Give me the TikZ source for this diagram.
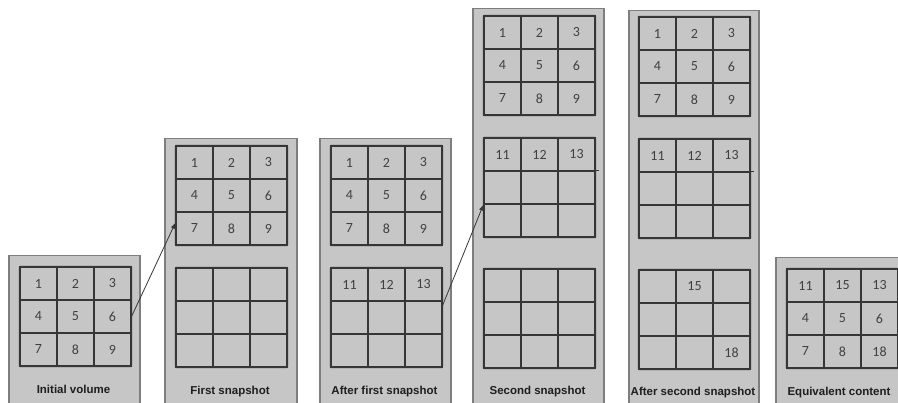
\documentclass[tikz,border=0pt]{standalone}
\usepackage{fontspec}
\usetikzlibrary{arrows.meta,calc}
\newfontfamily\numfont{Carlito}
\newfontfamily\labfont{Liberation Sans}
\definecolor{panelfill}{HTML}{C6C6C6}
\definecolor{paneledge}{HTML}{7E7E7E}
\definecolor{gridc}{HTML}{363636}
\definecolor{numc}{HTML}{404040}
\definecolor{labc}{HTML}{1E1E1E}
\tikzset{
  panel/.style={draw=paneledge, fill=panelfill, line width=1.5pt, anchor=north west, inner sep=0pt},
  cell/.style={draw=gridc, line width=1.1pt, minimum width=37pt, minimum height=33pt, inner sep=0pt,
    font=\numfont\fontsize{14}{16}\selectfont, text=numc},
  gridframe/.style={draw=gridc, line width=1.3pt, rounded corners=1pt},
  gridline/.style={draw=gridc, line width=1.1pt},
  lab/.style={font=\labfont\bfseries\fontsize{11.5}{13}\selectfont, text=labc, inner sep=0pt},
  conn/.style={draw=gridc, line width=0.8pt, -{Latex[length=6pt,width=4.5pt]}}
}
\newcommand{\mkgrid}[4]{%
  \foreach \lab [count=\i from 0] in {#4} {
    \pgfmathtruncatemacro\rr{int(\i/3)}
    \pgfmathtruncatemacro\cc{mod(\i,3)}
    \pgfmathtruncatemacro\kk{\i+1}
    \node[cell] (#1c\kk) at ({#2+37*\cc+18.5},{#3+33*\rr+16.5}) {\lab};
  }
  \draw[gridframe] (#1c1.north west) rectangle (#1c9.south east);
}
\begin{document}
\begin{tikzpicture}[x=1pt,y=-1pt]
\useasboundingbox (0,0) rectangle (898,403);
\clip (0,0) rectangle (898,403);
\fill[white] (0,0) rectangle (898,403);
% panels
\node[panel, minimum width=131pt, minimum height=160pt] (pan1) at (8,255) {};
\node[panel, minimum width=132pt, minimum height=280pt] (pan2) at (164,138) {};
\node[panel, minimum width=131pt, minimum height=280pt] (pan3) at (319,138) {};
\node[panel, minimum width=131pt, minimum height=410pt] (pan4) at (472,8) {};
\node[panel, minimum width=130pt, minimum height=410pt] (pan5) at (628,10) {};
\node[panel, minimum width=140pt, minimum height=160pt] (pan6) at (775,257) {};
% grids
\mkgrid{pA}{20}{267}{1,2,3,4,5,6,7,8,9}
\mkgrid{pBa}{176}{146}{1,2,3,4,5,6,7,8,9}
\mkgrid{pBb}{176}{268}{{},{},{},{},{},{},{},{},{}}
\mkgrid{pCa}{331}{146}{1,2,3,4,5,6,7,8,9}
\mkgrid{pCb}{331}{268}{11,12,13,{},{},{},{},{},{}}
\mkgrid{pDa}{484}{16}{1,2,3,4,5,6,7,8,9}
\mkgrid{pDb}{484}{138}{11,12,13,{},{},{},{},{},{}}
\mkgrid{pDc}{484}{269}{{},{},{},{},{},{},{},{},{}}
\mkgrid{pEa}{639}{17}{1,2,3,4,5,6,7,8,9}
\mkgrid{pEb}{639}{139}{11,12,13,{},{},{},{},{},{}}
\mkgrid{pEc}{639}{270}{{},15,{},{},{},{},{},{},18}
\mkgrid{pF}{787}{269}{11,15,13,4,5,6,7,8,18}
% extended row lines
\draw[gridline] ([xshift=4pt]pDbc4.north west) -- ([xshift=3.5pt]pDbc6.north east);
\draw[gridline] ([xshift=4pt]pEbc4.north west) -- ([xshift=3.5pt]pEbc6.north east);
% labels
\node[lab] (lA) at (73.5,389) {Initial volume};
\node[lab] (lB) at (230,392) {First snapshot};
\node[lab] (lC) at (384.5,392) {After first snapshot};
\node[lab] (lD) at (537.5,392) {Second snapshot};
\node[lab] (lE) at (693,393) {After second snapshot};
\node[lab] (lF) at (839,393) {Equivalent content};
% connectors
\draw[conn] (pAc6.east) -- ($(pBac7.north west)!0.33!(pBac7.south west)$);
\draw[conn] ([yshift=-4pt]pCbc3.south east) -- (pDbc4.south west);
\end{tikzpicture}
\end{document}
